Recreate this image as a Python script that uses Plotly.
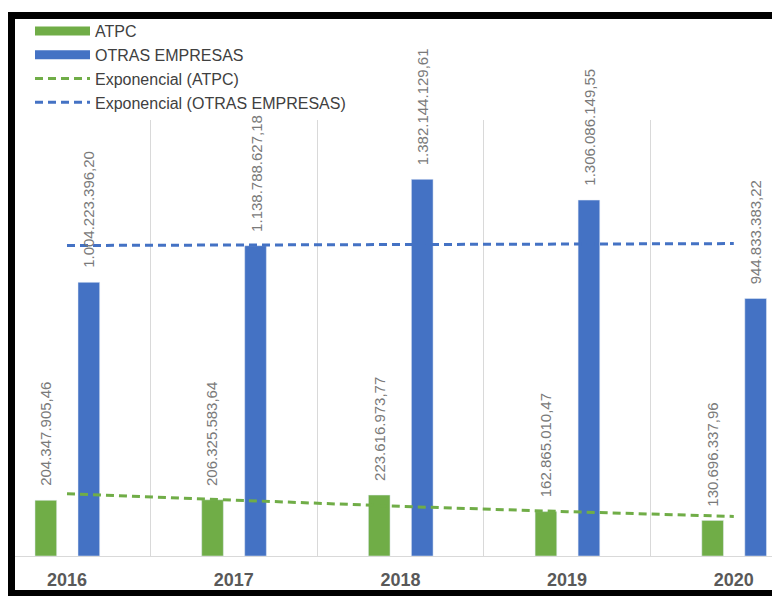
import numpy as np
import plotly.graph_objects as go

years = ["2016", "2017", "2018", "2019", "2020"]
atpc = [204347905.46, 206325583.64, 223616973.77, 162865010.47, 130696337.96]
otras = [1004223396.20, 1138788627.18, 1382144129.61, 1306086149.55, 944833383.22]
names = ["ATPC", "OTRAS EMPRESAS", "Exponencial (ATPC)", "Exponencial (OTRAS EMPRESAS)"]

GREEN = "#70AD47"
BLUE = "#4472C4"


def fmt(v):
    s = f"{v:,.2f}"
    return s.replace(",", "X").replace(".", ",").replace("X", ".")


def expfit(vals):
    x = np.arange(1, len(vals) + 1)
    b, a = np.polyfit(x, np.log(vals), 1)
    return list(np.exp(a + b * x))


trend_atpc = expfit(atpc)
trend_otras = expfit(otras)

fig = go.Figure()
fig.add_trace(go.Bar(x=years, y=atpc, marker_color=GREEN, width=0.13, offset=-0.192,
                     showlegend=False, legendgroup="a", hoverinfo="y"))
fig.add_trace(go.Bar(x=years, y=otras, marker_color=BLUE, width=0.13, offset=0.066,
                     showlegend=False, legendgroup="b", hoverinfo="y"))
fig.add_trace(go.Scatter(x=years, y=trend_atpc, mode="lines", line=dict(color=GREEN, width=3, dash="8px,5px"),
                         showlegend=False, legendgroup="c"))
fig.add_trace(go.Scatter(x=years, y=trend_otras, mode="lines", line=dict(color=BLUE, width=3, dash="8px,5px"),
                         showlegend=False, legendgroup="d"))

# legend entries
fig.add_trace(go.Scatter(x=[None], y=[None], mode="lines", name=names[0], line=dict(color=GREEN, width=9), legendgroup="a"))
fig.add_trace(go.Scatter(x=[None], y=[None], mode="lines", name=names[1], line=dict(color=BLUE, width=9), legendgroup="b"))
fig.add_trace(go.Scatter(x=[None], y=[None], mode="lines", name=names[2], line=dict(color=GREEN, width=3, dash="8px,5px"), legendgroup="c"))
fig.add_trace(go.Scatter(x=[None], y=[None], mode="lines", name=names[3], line=dict(color=BLUE, width=3, dash="8px,5px"), legendgroup="d"))

LABEL_FONT = dict(family="Liberation Sans, Arial, sans-serif", size=15, color="#7a7a7a")
for i, v in enumerate(atpc):
    fig.add_annotation(x=i, y=v, xref="x", yref="y", text=fmt(v), textangle=-90, showarrow=False, xshift=-21.5,
                       yanchor="bottom", yshift=12, font=LABEL_FONT)
for i, v in enumerate(otras):
    fig.add_annotation(x=i, y=v, xref="x", yref="y", text=fmt(v), textangle=-90, showarrow=False, xshift=22,
                       yanchor="bottom", yshift=12, font=LABEL_FONT)

W, H = 780, 596
OFF = 8  # page body margin offset
# plot area in screenshot pixels
Ls, Rs, Ts, Bs = 15, 788, 120, 556
L, R, T, B = Ls - OFF, Rs - OFF, Ts - OFF, Bs - OFF
px_per_cat = 166.7
c0 = 67


def px2paper_x(px):
    return (px - Ls) / (Rs - Ls)


def px2paper_y(py):
    return (Bs - py) / (Bs - Ts)


# black frame (screenshot pixel centres of the frame lines)
fig.add_shape(type="rect", xref="paper", yref="paper",
              x0=px2paper_x(11.5), x1=px2paper_x(900), y0=px2paper_y(593.5), y1=px2paper_y(15.5),
              line=dict(color="black", width=7), fillcolor="rgba(0,0,0,0)", layer="above")

fig.update_layout(
    width=W, height=H,
    margin=dict(l=L, r=W - R, t=T, b=H - B, pad=0, autoexpand=False),
    paper_bgcolor="white", plot_bgcolor="white",
    barmode="overlay",
    showlegend=True,
    legend=dict(xref="container", yref="container", x=(30 - OFF) / W, y=1 - (14 - OFF) / H,
                xanchor="left", yanchor="top", itemwidth=55, tracegroupgap=2,
                font=dict(family="Liberation Sans, Arial, sans-serif", size=16, color="#404040"),
                bgcolor="rgba(0,0,0,0)", traceorder="normal"),
    xaxis=dict(type="category", range=[(Ls - c0) / px_per_cat, (Rs - c0) / px_per_cat],
               showgrid=True, gridcolor="#d9d9d9", gridwidth=1, tickson="boundaries",
               ticks="", showline=True, linecolor="#d9d9d9", linewidth=1,
               tickfont=dict(family="Liberation Sans, Arial, sans-serif", size=18, color="#595959", weight="bold"),
               ticklabelstandoff=7, zeroline=False),
    yaxis=dict(range=[0, 1.6e9], showgrid=False, showticklabels=False, zeroline=False, ticks="", showline=False),
)

fig.write_html("out.html")
